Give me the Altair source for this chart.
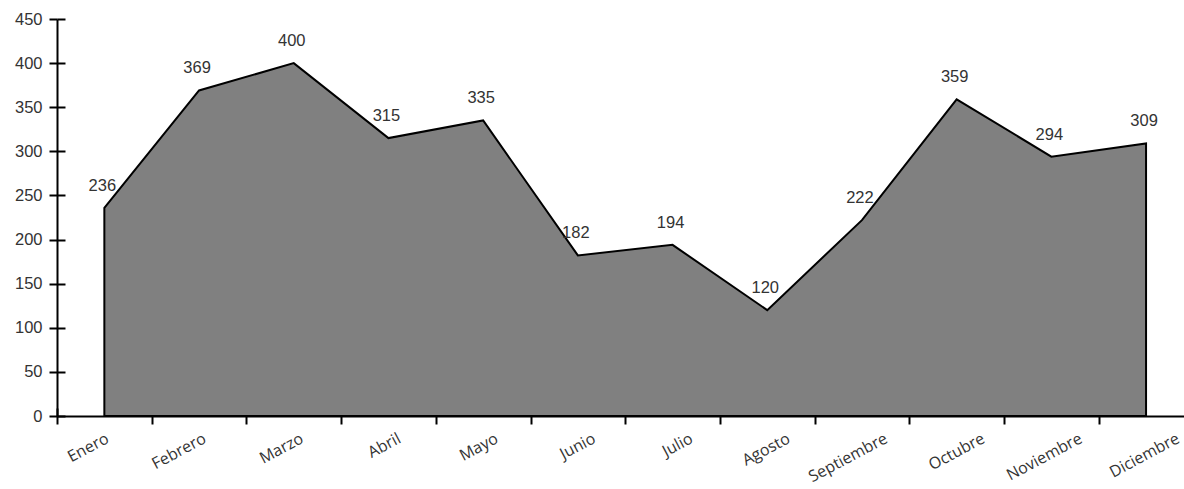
import altair as alt
import pandas as pd

# Monthly totals
meses = ["Enero", "Febrero", "Marzo", "Abril", "Mayo", "Junio",
         "Julio", "Agosto", "Septiembre", "Octubre", "Noviembre", "Diciembre"]
valores = [236, 369, 400, 315, 335, 182, 194, 120, 222, 359, 294, 309]
y_ticks = [0, 50, 100, 150, 200, 250, 300, 350, 400, 450]

df = pd.DataFrame({"mes": meses, "valor": valores})

W, H = 1127, 397
NUM_FONT = "Liberation Sans"
CAT_FONT = "Open Sans"
TEXT_COLOR = "#333333"

x_scale = alt.Scale(type="band", domain=meses, range=[0, 1136.4],
                    paddingInner=0, paddingOuter=0)
y_scale = alt.Scale(domain=[0, 450], nice=False, zero=True)

# Filled area with outline, main (bottom / left) axes
area = alt.Chart(df).mark_area(
    color="#808080", stroke="black", strokeWidth=2, strokeJoin="miter"
).encode(
    x=alt.X("mes:N", sort=meses, scale=x_scale, title=None,
            axis=alt.Axis(orient="bottom", tickBand="extent", tickSize=8,
                          tickWidth=2, tickColor="black", domainWidth=2,
                          domainColor="black", labelAngle=332,
                          labelAlign="right", labelBaseline="top",
                          labelPadding=6, labelFont=CAT_FONT,
                          labelFontSize=16, labelColor=TEXT_COLOR,
                          labelOverlap=False,
                          labelOffset={"expr": "datum.index * 29 - 1"})),
    y=alt.Y("valor:Q", scale=y_scale, title=None,
            axis=alt.Axis(orient="left", values=y_ticks, tickSize=8,
                          tickWidth=2, tickColor="black", domainWidth=2,
                          domainColor="black", grid=False, labelPadding=7,
                          labelFont=NUM_FONT, labelFontSize=16.5,
                          labelColor=TEXT_COLOR, labelFlush=False,
                          labelOverlap=False)),
)

# Value labels; their axes supply the inner half of the crossing ticks
labels = alt.Chart(df).mark_text(
    font=NUM_FONT, fontSize=16.5, color=TEXT_COLOR, dx=-2, dy=-22
).encode(
    x=alt.X("mes:N", sort=meses, scale=x_scale, title=None,
            axis=alt.Axis(orient="top", offset=-H, tickBand="extent",
                          tickSize=8, tickWidth=2, tickColor="black",
                          domain=False, labels=False)),
    y=alt.Y("valor:Q", scale=y_scale, title=None,
            axis=alt.Axis(orient="right", offset=-W, values=y_ticks,
                          tickSize=8, tickWidth=2, tickColor="black",
                          domain=False, labels=False, grid=False)),
    text=alt.Text("valor:Q"),
)

chart = alt.layer(area, labels).resolve_axis(
    x="independent", y="independent"
).properties(
    width=W, height=H,
    autosize=alt.AutoSizeParams(type="none"),
    padding={"left": 57, "top": 19, "right": 0, "bottom": 73},
    background="white",
).configure_view(stroke=None)

chart.save("out.html", embed_options={"renderer": "svg", "actions": False})
